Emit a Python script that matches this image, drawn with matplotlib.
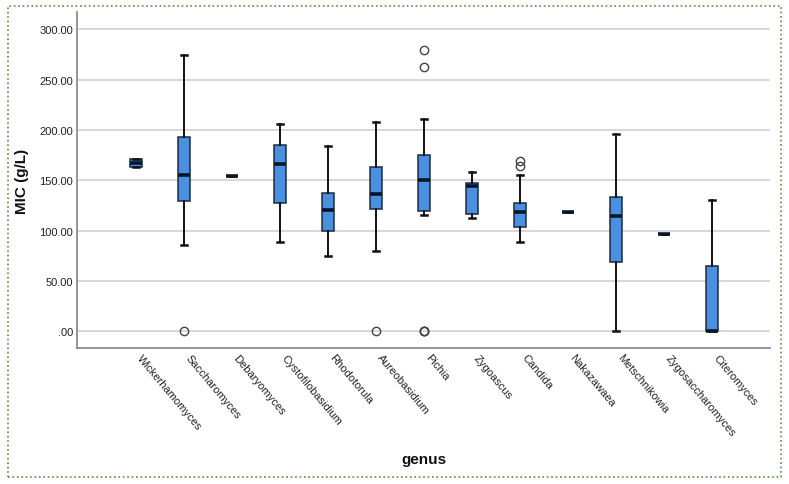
import matplotlib
matplotlib.use("Agg")
import matplotlib.pyplot as plt
import matplotlib.transforms as mtransforms
from matplotlib.patches import Rectangle

plt.rcParams["font.family"] = ["Liberation Sans", "DejaVu Sans"]

# DATA

GENERA = ["Wickerhamomyces", "Saccharomyces", "Debaryomyces", "Cystofilobasidium",
          "Rhodotorula", "Aureobasidium", "Pichia", "Zygoascus", "Candida",
          "Nakazawaea", "Metschnikowia", "Zygosaccharomyces", "Citeromyces"]

WHISLO = [163, 86, 154, 89, 75, 80, 115.5, 113, 89, 119, 0, 97, 0]
Q1 = [163, 129, 154, 127.5, 100, 122, 119.5, 117, 103.5, 119, 69, 97, 0]
MED = [167.5, 155.5, 154, 166, 121, 136, 150, 144, 119, 119, 114.5, 97, 0]
Q3 = [171, 192.5, 154, 185.5, 137.5, 163.5, 175, 147, 127.5, 119, 133.5, 97, 65]
WHISHI = [171, 274.5, 154, 205.5, 184, 207.5, 210.5, 158, 155.5, 119, 196, 97, 130]
FLIERS = [[], [0], [], [], [], [0], [0, 0, 0, 262, 279], [], [164.5, 169.5],
          [], [], [], []]

YTICKS = [0, 50, 100, 150, 200, 250, 300]
YLABELS = [".00", "50.00", "100.00", "150.00", "200.00", "250.00", "300.00"]


# PLOT

fig = plt.figure(figsize=(7.89, 4.85), dpi=100)
ax = fig.add_axes([77 / 789, 1 - 349 / 485, (770 - 77) / 789, (349 - 13) / 485])

stats = []
for i, g in enumerate(GENERA):
    stats.append(dict(label=g, whislo=WHISLO[i], q1=Q1[i], med=MED[i],
                      q3=Q3[i], whishi=WHISHI[i], fliers=FLIERS[i]))

ax.bxp(stats, positions=range(len(GENERA)), widths=0.25, capwidths=0.13,
       patch_artist=True, manage_ticks=False,
       boxprops=dict(facecolor="#4a8fe0", edgecolor="#1a2c45", linewidth=1.1),
       medianprops=dict(color="#08162a", linewidth=2.6, solid_capstyle="butt"),
       whiskerprops=dict(color="#111111", linewidth=1.4),
       capprops=dict(color="#111111", linewidth=1.8),
       flierprops=dict(marker="o", markersize=6, markerfacecolor="none",
                       markeredgecolor="#444444", markeredgewidth=1.0))

ax.set_xlim(-1.23, 13.2)
ax.set_ylim(-16.4, 317)

ax.set_yticks(YTICKS)
ax.set_yticklabels(YLABELS, fontsize=8, color="#222222")
ax.set_xticks(range(len(GENERA)))
ax.set_xticklabels(GENERA, rotation=-50, ha="left", va="top",
                   rotation_mode="anchor", fontsize=8, color="#222222")
ax.tick_params(axis="both", length=0, pad=3)

# nudge the slanted names a little to the right, as in the original
shift = mtransforms.ScaledTranslation(7 / 100, 0, fig.dpi_scale_trans)
for lab in ax.get_xticklabels():
    lab.set_transform(lab.get_transform() + shift)

ax.grid(axis="y", color="#d4d4d4", linewidth=1.3)
ax.set_axisbelow(True)

for s in ["top", "right"]:
    ax.spines[s].set_visible(False)
for s in ["left", "bottom"]:
    ax.spines[s].set_color("#8c8c8c")
    ax.spines[s].set_linewidth(1.3)

fig.text(22 / 789, 1 - 181 / 485, "MIC (g/L)", rotation=90, ha="center",
         va="center", fontsize=11, fontweight="bold", color="#111111")
fig.text(424 / 789, 1 - 460 / 485, "genus", ha="center", va="center",
         fontsize=11, fontweight="bold", color="#111111")

fig.patches.append(Rectangle((8 / 789, 1 - 478 / 485), 773 / 789, 471 / 485,
                             transform=fig.transFigure, fill=False,
                             edgecolor="#5f8f3a", linestyle=":", linewidth=1.2))

fig.savefig("out.png", dpi=100)
